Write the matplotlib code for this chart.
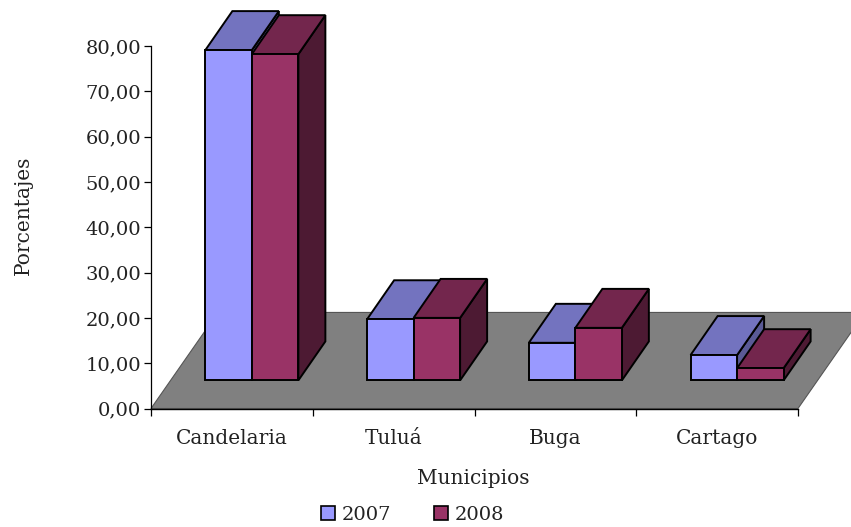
#!/usr/bin/env python3
"""Fake 3D grouped bars: municipios, 2007 vs 2008."""
import matplotlib
matplotlib.use("Agg")
import matplotlib.pyplot as plt
from matplotlib.patches import Polygon, Patch

categories = ["Candelaria", "Tuluá", "Buga", "Cartago"]
values_2007 = [72.9, 13.5, 8.3, 5.6]
values_2008 = [72.0, 13.8, 11.6, 2.7]
y_ticks = [0, 10, 20, 30, 40, 50, 60, 70, 80]

FLOOR_DX, FLOOR_DY = 0.414, 21.2   # floor depth in data units
BASE_DX, BASE_DY = 0.121, 6.2      # where the bars stand on the floor
DEPTH_DX, DEPTH_DY = 0.167, 8.6    # depth of a bar
GAP = 0.215
BAR_W = 0.2875

plt.rcParams["font.family"] = ["DejaVu Serif"]
plt.rcParams["font.size"] = 14
plt.rcParams["text.color"] = "#222222"
plt.rcParams["xtick.labelcolor"] = "#222222"
plt.rcParams["ytick.labelcolor"] = "#222222"
plt.rcParams["axes.labelcolor"] = "#222222"

W, H = 851, 527
fig = plt.figure(figsize=(W / 100, H / 100), dpi=100)
ax = fig.add_axes([151 / W, (H - 408.5) / H, 647 / W, 362.5 / H])
ax.set_xlim(0, 4)
ax.set_ylim(0, 80)


def poly(points, color, lw=1.4, edge="black", z=3):
    ax.add_patch(Polygon(points, closed=True, facecolor=color, edgecolor=edge,
                         linewidth=lw, joinstyle="miter", clip_on=False, zorder=z))


def bar3d(x0, value, front, top, side, z):
    x1 = x0 + BAR_W
    y0 = BASE_DY
    y1 = BASE_DY + value
    poly([(x1, y0), (x1 + DEPTH_DX, y0 + DEPTH_DY), (x1 + DEPTH_DX, y1 + DEPTH_DY), (x1, y1)], side, z=z)
    poly([(x0, y1), (x1, y1), (x1 + DEPTH_DX, y1 + DEPTH_DY), (x0 + DEPTH_DX, y1 + DEPTH_DY)], top, z=z)
    poly([(x0, y0), (x1, y0), (x1, y1), (x0, y1)], front, z=z)


# floor
poly([(0, 0), (4, 0), (4 + FLOOR_DX, FLOOR_DY), (FLOOR_DX, FLOOR_DY)], "#808080",
     lw=0.8, edge="#555555", z=1)

for i in range(len(categories)):
    x0 = i + BASE_DX + GAP
    bar3d(x0, values_2007[i], "#9999FF", "#7373BF", "#5A5A96", 3 + i * 2)
    bar3d(x0 + BAR_W, values_2008[i], "#993366", "#73264D", "#4D1A33", 4 + i * 2)

ax.spines["top"].set_visible(False)
ax.spines["right"].set_visible(False)
ax.spines["left"].set_linewidth(0.9)
ax.spines["bottom"].set_linewidth(1.0)
ax.set_yticks(y_ticks)
ax.set_yticklabels([f"{v},00" for v in y_ticks])
ax.set_xticks(range(len(categories) + 1))
ax.set_xticklabels([])
ax.tick_params(axis="both", length=5, width=0.9, pad=2)
for i, name in enumerate(categories):
    ax.annotate(name, (i + 0.5, 0), xytext=(0, -25.5), textcoords="offset points",
                ha="center", va="baseline", fontsize=14.5)

ax.set_xlabel("Municipios", fontsize=14.5)
ax.xaxis.set_label_coords(0.498, -0.168)
ax.set_ylabel("Porcentajes", fontsize=14.5)
ax.yaxis.set_label_coords(-0.183, 0.533)

handles = [Patch(facecolor="#9999FF", edgecolor="black", linewidth=1.2, label="2007"),
           Patch(facecolor="#993366", edgecolor="black", linewidth=1.2, label="2008")]
fig.legend(handles=handles, loc="center", bbox_to_anchor=(412.5 / W, (H - 515) / H), ncol=2,
           frameon=False, handlelength=0.7, handleheight=0.7, handletextpad=0.35,
           columnspacing=2.2, fontsize=14, borderpad=0)

fig.savefig("out.png", dpi=100)
